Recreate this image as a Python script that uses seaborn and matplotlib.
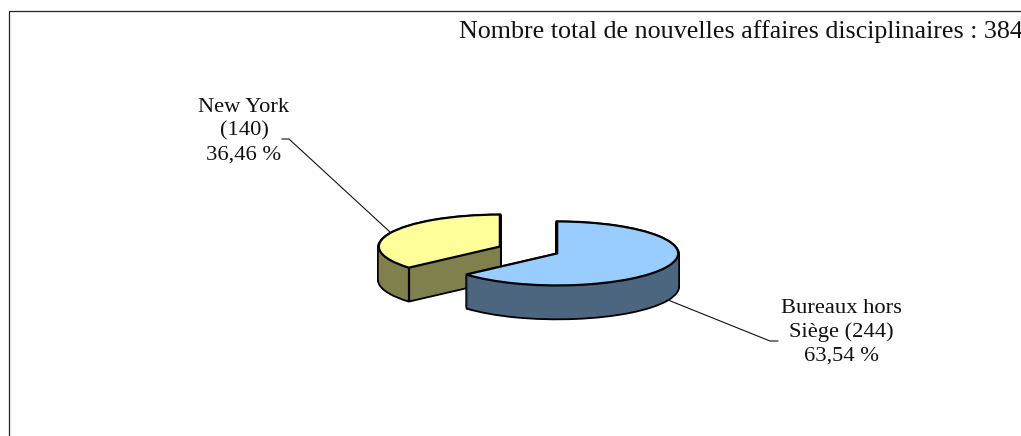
import numpy as np
import matplotlib
matplotlib.use('Agg')
import matplotlib.pyplot as plt
from matplotlib.lines import Line2D
import seaborn as sns

# data
lieux = ['Bureaux hors\nSiège (244)\n63,54 %', 'New York\n(140)\n36,46 %']
affaires = [244, 140]
titre = 'Nombre total de nouvelles affaires disciplinaires : 384'

couleurs_dessus = ['#99CCFF', '#FFFF99']
couleurs_cote = ['#4D6680', '#80804D']

W, H = 1021, 436
RX, RY = 121, 32     # pie radius in px
CX, CY = 528.5, 250  # pie centre in px
DEPTH = 33

sns.set_theme(style='white')
plt.rcParams['font.family'] = ['Liberation Serif', 'DejaVu Serif']

fig = plt.figure(figsize=(W / 100, H / 100), dpi=100)
ax = fig.add_axes([0, 0, 1, 1])


def fx(x):
    return x / W


def fy(y):
    return 1 - y / H


def draw_pie(depth, colors, edge, lw, z):
    wedges, _ = ax.pie(affaires, explode=[0.26, 0.26], colors=colors, startangle=90,
                       counterclock=False, center=(0, -depth / RY),
                       wedgeprops={'edgecolor': edge, 'linewidth': lw})
    for w, zz in zip(wedges, z):
        w.set_zorder(zz)
    return wedges


# 3d side: black outline first then the fill over it
for d in range(DEPTH, 0, -1):
    draw_pie(d, ['black', 'black'], 'black', 2.6, [4, 1])
for d in range(DEPTH, 0, -1):
    draw_pie(d, couleurs_cote, 'none', 0, [5, 2])
top = draw_pie(0, couleurs_dessus, 'black', 1.6, [6, 3])

# front corner of the yellow slice
yel = top[1]
ang = np.deg2rad(yel.theta2)
xc = yel.center[0] + yel.r * np.cos(ang)
yc = yel.center[1] + yel.r * np.sin(ang)
ax.plot([xc, xc], [yc, yc - DEPTH / RY], color='black', lw=1.6, zorder=3)

ax.set_aspect('auto')
ax.set_xlim(-CX / RX, (W - CX) / RX)
ax.set_ylim(-(H - CY) / RY, CY / RY)
ax.axis('off')

# frame
fig.add_artist(Line2D([fx(8.5), fx(8.5), fx(W)], [fy(H), fy(11), fy(11)], color='#222222', lw=0.9))

# leader lines
fig.add_artist(Line2D([fx(282), fx(289), fx(390)], [fy(139), fy(139), fy(232)], color='#111111', lw=0.8))
fig.add_artist(Line2D([fx(668), fx(770), fx(778)], [fy(300), fy(341), fy(341)], color='#111111', lw=0.8))

# text
fig.text(fx(1023), fy(32), titre, ha='right', va='center', fontsize=18.7, color='#111111')
fig.text(fx(841), fy(332), lieux[0], ha='center', va='center', fontsize=16.2, color='#111111', linespacing=1.32)
fig.text(fx(244), fy(131), lieux[1], ha='center', va='center', fontsize=16.2, color='#111111', linespacing=1.32)

fig.savefig('out.png', dpi=100)
